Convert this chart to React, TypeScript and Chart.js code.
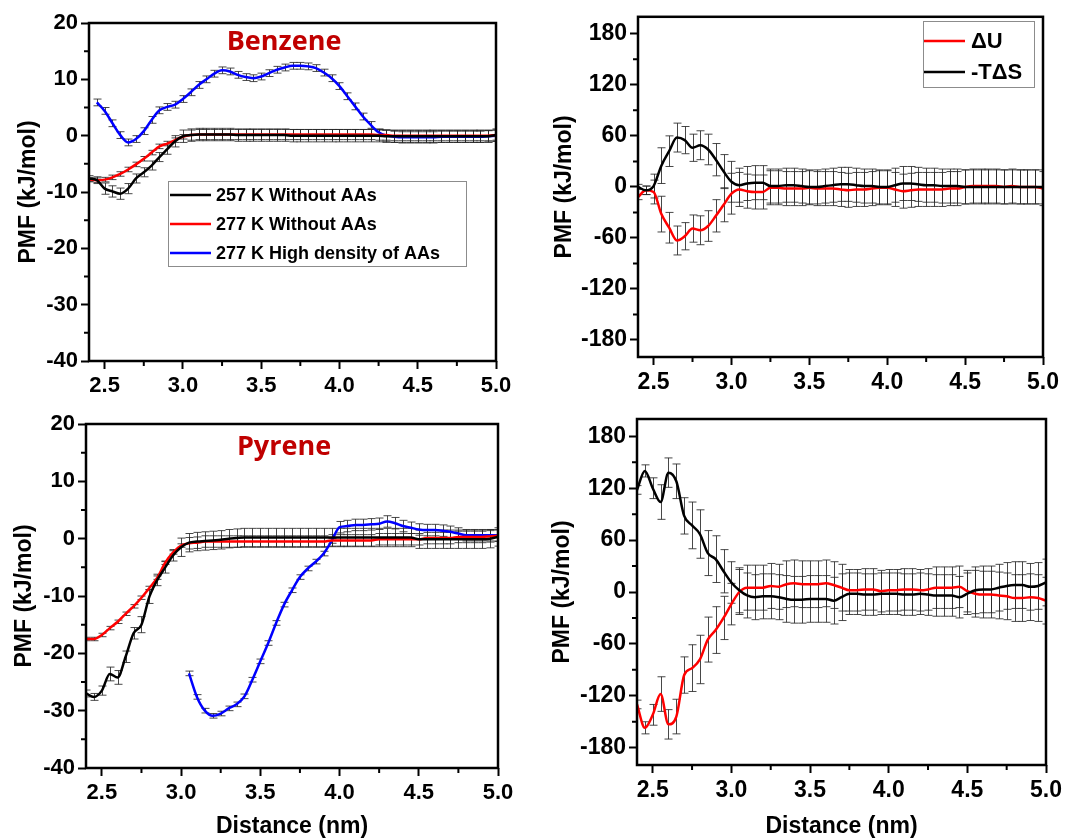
import React, { useEffect, useRef } from "react";
import { Chart, registerables } from "chart.js";

Chart.register(...registerables);
Chart.defaults.font.family = "'Liberation Sans', Arial, sans-serif";

const X = [
  2.40, 2.45, 2.50, 2.55, 2.60, 2.65, 2.70, 2.75, 2.80, 2.85,
  2.90, 2.95, 3.00, 3.05, 3.10, 3.15, 3.20, 3.25, 3.30, 3.35,
  3.40, 3.45, 3.50, 3.55, 3.60, 3.65, 3.70, 3.75, 3.80, 3.85,
  3.90, 3.95, 4.00, 4.05, 4.10, 4.15, 4.20, 4.25, 4.30, 4.35,
  4.40, 4.45, 4.50, 4.55, 4.60, 4.65, 4.70, 4.75, 4.80, 4.85,
  4.90, 4.95, 5.00,
];

const X_MAJOR = [2.5, 3.0, 3.5, 4.0, 4.5, 5.0];
const X_MINOR = [2.75, 3.25, 3.75, 4.25, 4.75];
const Y_MAJOR_PMF = [-40, -30, -20, -10, 0, 10, 20];
const Y_MINOR_PMF = [-35, -25, -15, -5, 5, 15];
const Y_MAJOR_DEC = [-180, -120, -60, 0, 60, 120, 180];
const Y_MINOR_DEC = [-150, -90, -30, 30, 90, 150];

// ---------- Benzene PMF ----------
const BZ_257 = [
  -7.6, -7.9, -9.4, -9.9, -10.3, -9.4, -7.6, -6.5, -5.3, -3.8,
  -2.4, -1.0, -0.1, 0.1, 0.2, 0.2, 0.2, 0.2, 0.2, 0.1,
  0.1, 0.1, 0.1, 0.1, 0.1, 0.1, 0.0, 0.0, 0.0, 0.0,
  0.0, 0.0, 0.0, 0.0, 0.0, 0.0, 0.0, 0.0, -0.1, -0.1,
  -0.1, -0.1, -0.1, -0.1, -0.1, -0.1, -0.1, -0.1, -0.1, -0.1,
  -0.1, -0.1, 0.1,
];
const BZ_257_ERR = [
  0.5, 0.6, 1.0, 1.0, 1.0, 0.9, 0.8, 0.8, 0.8, 0.8,
  0.9, 1.0, 1.1, 1.1, 1.1, 1.1, 1.1, 1.1, 1.1, 1.1,
  1.1, 1.1, 1.1, 1.1, 1.1, 1.1, 1.1, 1.1, 1.1, 1.1,
  1.1, 1.1, 1.1, 1.1, 1.1, 1.1, 1.1, 1.1, 1.1, 1.1,
  1.1, 1.1, 1.1, 1.1, 1.1, 1.1, 1.1, 1.1, 1.1, 1.1,
  1.1, 1.1, 1.1,
];
const BZ_277 = [
  -7.8, -7.9, -7.8, -7.4, -6.8, -6.0, -5.1, -4.1, -3.0, -1.9,
  -1.4, -0.8, -0.2, 0.1, 0.2, 0.2, 0.2, 0.2, 0.2, 0.2,
  0.2, 0.2, 0.2, 0.2, 0.2, 0.2, 0.2, 0.2, 0.2, 0.2,
  0.2, 0.2, 0.2, 0.2, 0.2, 0.2, 0.2, 0.1, 0.1, 0.0,
  0.0, 0.0, 0.0, 0.0, 0.0, 0.0, 0.0, 0.0, 0.0, 0.0,
  0.0, 0.0, 0.1,
];
const BZ_277_ERR = [
  0.4, 0.4, 0.4, 0.4, 0.4, 0.4, 0.4, 0.4, 0.4, 0.4,
  0.4, 0.4, 0.4, 0.9, 0.9, 0.9, 0.9, 0.9, 0.9, 0.9,
  0.9, 0.9, 0.9, 0.9, 0.9, 0.9, 0.9, 0.9, 0.9, 0.9,
  0.9, 0.9, 0.9, 0.9, 0.9, 0.9, 0.9, 0.9, 0.9, 0.9,
  0.9, 0.9, 0.9, 0.9, 0.9, 0.9, 0.9, 0.9, 0.9, 0.9,
  0.9, 0.9, 0.9,
];
const BZ_AA = [
  null, 5.9, 4.4, 2.2, 0.1, -1.2, -0.6, 0.8, 2.8, 4.5,
  5.1, 5.5, 6.5, 7.7, 9.0, 10.0, 11.0, 11.6, 11.4, 10.8,
  10.4, 10.2, 10.5, 11.1, 11.7, 12.1, 12.4, 12.4, 12.3, 12.0,
  11.2, 10.2, 8.8, 7.0, 5.2, 3.4, 1.9, 0.6, 0.0, -0.2,
  -0.3, -0.3, -0.3, -0.3, -0.3, -0.2, -0.2, -0.2, -0.2, -0.2,
  -0.2, -0.1, 0.0,
];
const BZ_AA_ERR = [
  null, 0.6, 0.6, 0.6, 0.6, 0.6, 0.6, 0.6, 0.6, 0.6,
  0.6, 0.6, 0.6, 0.6, 0.6, 0.6, 0.6, 0.6, 0.6, 0.6,
  0.6, 0.6, 0.6, 0.6, 0.6, 0.6, 0.6, 0.6, 0.6, 0.6,
  0.6, 0.6, 0.6, 0.6, 0.6, 0.6, 0.6, 0.6, 1.0, 1.0,
  1.0, 1.0, 1.0, 1.0, 1.0, 1.0, 1.0, 1.0, 1.0, 1.0,
  1.0, 1.0, 1.0,
];

// ---------- Benzene decomposition ----------
const BZ_U = [
  -12, -4, -6, -32, -48, -63, -58, -49, -51, -46,
  -34, -21, -8, -3, -5, -6, -6, -1, -1, -2,
  -2, -2, -1, -2, -2, -2, -3, -4, -3, -3,
  -2, -1, -1, -3, -5, -4, -3, -3, -3, -3,
  -2, -2, 0, 1, 1, 1, 1, 0, 1, 0,
  0, 0, -2,
];
const BZ_TS = [
  0, -4, 1, 25, 42, 58, 55, 46, 49, 44,
  32, 18, 6, 2, 4, 5, 5, 1, 1, 2,
  2, 1, 0, 0, 1, 2, 3, 3, 2, 1,
  1, 0, 0, 2, 4, 4, 3, 2, 2, 1,
  1, 1, 0, 0, 0, 0, 0, 0, 0, 0,
  0, 0, 0,
];
const BZ_DEC_ERR = [
  3, 5, 14, 21, 18, 17, 16, 16, 17, 18,
  19, 20, 24, 20, 20, 20, 20, 20, 20, 20,
  20, 20, 20, 20, 20, 20, 20, 20, 20, 20,
  20, 20, 20, 20, 20, 20, 20, 20, 20, 20,
  20, 20, 20, 20, 20, 20, 20, 20, 20, 20,
  20, 20, 20,
];

// ---------- Pyrene PMF ----------
const PY_257 = [
  -27.0, -27.6, -26.5, -23.6, -24.2, -20.6, -16.5, -15.0, -10.1, -7.2,
  -5.0, -2.9, -1.5, -0.7, -0.5, -0.4, -0.3, -0.2, 0.0, 0.1,
  0.2, 0.2, 0.2, 0.2, 0.2, 0.2, 0.2, 0.2, 0.2, 0.2,
  0.2, 0.2, 0.2, 0.2, 0.2, 0.2, 0.2, 0.2, 0.2, 0.2,
  0.2, 0.2, -0.1, -0.1, -0.1, -0.1, -0.1, -0.1, -0.1, -0.1,
  -0.1, 0.0, 0.3,
];
const PY_257_ERR = [
  0.6, 0.6, 0.8, 1.2, 1.2, 1.0, 1.0, 1.4, 1.2, 1.0,
  1.0, 1.0, 1.6, 1.6, 1.6, 1.6, 1.6, 1.6, 1.6, 1.6,
  1.6, 1.6, 1.6, 1.6, 1.6, 1.6, 1.6, 1.6, 1.6, 1.6,
  1.6, 1.6, 1.6, 1.6, 1.6, 1.6, 1.6, 1.6, 1.6, 1.6,
  1.6, 1.6, 1.6, 1.6, 1.6, 1.6, 1.6, 1.6, 1.6, 1.6,
  1.6, 1.6, 1.6,
];
const PY_277 = [
  -17.5, -17.5, -16.8, -15.6, -14.5, -13.1, -11.8, -10.3, -8.6, -6.8,
  -4.2, -2.4, -1.2, -0.8, -0.7, -0.5, -0.5, -0.5, -0.5, -0.5,
  -0.5, -0.5, -0.5, -0.5, -0.5, -0.5, -0.5, -0.5, -0.5, -0.5,
  -0.5, -0.3, -0.3, -0.3, -0.3, -0.3, -0.3, -0.1, -0.1, -0.1,
  -0.1, -0.1, -0.1, 0.1, 0.1, 0.1, 0.1, 0.3, 0.3, 0.3,
  0.3, 0.4, 0.5,
];
const PY_277_ERR = [
  0.3, 0.3, 0.3, 0.3, 0.3, 0.3, 0.3, 0.3, 0.3, 0.3,
  0.3, 0.3, 0.3, 1.0, 1.0, 1.0, 1.0, 1.0, 1.0, 1.0,
  1.0, 1.0, 1.0, 1.0, 1.0, 1.0, 1.0, 1.0, 1.0, 1.0,
  1.0, 1.0, 1.0, 1.0, 1.0, 1.0, 1.0, 1.0, 1.0, 1.0,
  1.0, 1.0, 1.0, 1.0, 1.0, 1.0, 1.0, 1.0, 1.0, 1.0,
  1.0, 1.0, 1.0,
];
const PY_AA = [
  null, null, null, null, null, null, null, null, null, null,
  null, null, null, -23.5, -27.6, -30.0, -30.9, -30.5, -29.6, -28.9,
  -27.5, -24.6, -21.4, -18.2, -14.7, -11.5, -9.0, -6.7, -5.2, -4.0,
  -2.6, -0.4, 2.0, 2.2, 2.4, 2.4, 2.5, 2.6, 3.0, 2.7,
  2.2, 1.9, 1.6, 1.5, 1.5, 1.4, 1.2, 0.9, 0.6, 0.6,
  0.6, 0.6, 0.6,
];
const PY_AA_ERR = [
  null, null, null, null, null, null, null, null, null, null,
  null, null, null, 0.4, 0.4, 0.4, 0.4, 0.4, 0.4, 0.4,
  0.4, 0.4, 0.4, 0.4, 0.4, 0.4, 0.4, 0.4, 0.4, 0.4,
  0.4, 0.4, 1.0, 1.0, 1.0, 1.0, 1.0, 1.0, 1.0, 1.0,
  1.0, 1.0, 1.0, 1.0, 1.0, 1.0, 1.0, 1.0, 1.0, 1.0,
  1.0, 1.0, 1.0,
];

// ---------- Pyrene decomposition ----------
const PY_TS = [
  118, 140, 120, 104, 138, 128, 88, 77, 67, 45,
  38, 24, 11, 2, -4, -6, -5, -5, -6, -8,
  -9, -9, -8, -8, -8, -10, -6, -2, -2, -3,
  -3, -2, -2, -2, -3, -3, -2, -3, -4, -4,
  -4, -6, -2, 2, 3, 3, 5, 7, 8, 8,
  6, 7, 11,
];
const PY_U = [
  -130, -157, -142, -118, -153, -144, -96, -88, -78, -55,
  -44, -30, -14, 0, 5, 5, 5, 7, 6, 9,
  10, 9, 9, 9, 10, 8, 5, 2, 2, 3,
  3, 1, 2, 2, 3, 3, 2, 3, 5, 5,
  5, 6, 1, -2, -3, -3, -4, -5, -7, -7,
  -6, -7, -10,
];
const PY_DEC_ERR = [
  5, 7, 12, 20, 17, 20, 21, 27, 28, 26,
  27, 25, 24, 26, 26, 26, 26, 26, 26, 27,
  27, 27, 27, 27, 27, 27, 27, 24, 24, 24,
  24, 24, 24, 24, 24, 24, 24, 24, 24, 24,
  24, 24, 24, 27, 27, 27, 27, 27, 27, 27,
  27, 27, 27,
];

const LEG_PMF = ["257 K Without AAs", "277 K Without AAs", "277 K High density of AAs"];
const LEG_DEC = ["\u0394U", "-T\u0394S"];

type Series = { label: string; values: (number | null)[]; errors: (number | null)[]; color: string };
type PanelCfg = {
  id: string;
  left: number; top: number; width: number; height: number;
  padding: { left: number; top: number; right: number; bottom: number };
  yWidth: number; xHeight: number;
  yMin: number; yMax: number; yMajor: number[]; yMinor: number[];
  tickSize: number;
  xTitle: boolean;
  series: Series[];
  title?: { text: string; x: number; y: number };
  legend?: {
    box: [number, number, number, number];
    x0: number; x1: number; tx: number; rows: number[]; size: number;
    items: { label: string; color: string }[];
  };
};

const BLACK = "#000000";
const RED = "#ff0000";
const BLUE = "#0000ff";

const PANELS: PanelCfg[] = [
  {
    id: "bz", left: 0, top: 0, width: 530, height: 400,
    padding: { left: 11, top: 23, right: 34, bottom: 0 },
    yWidth: 78, xHeight: 39,
    yMin: -40, yMax: 20, yMajor: Y_MAJOR_PMF, yMinor: Y_MINOR_PMF,
    tickSize: 22, xTitle: false,
    series: [
      { label: LEG_PMF[0], values: BZ_257, errors: BZ_257_ERR, color: BLACK },
      { label: LEG_PMF[1], values: BZ_277, errors: BZ_277_ERR, color: RED },
      { label: LEG_PMF[2], values: BZ_AA, errors: BZ_AA_ERR, color: BLUE },
    ],
    title: { text: "Benzene", x: 284, y: 50 },
    legend: {
      box: [168, 181, 298, 85], x0: 170, x1: 211, tx: 216, rows: [195, 224, 253], size: 18,
      items: [
        { label: LEG_PMF[0], color: BLACK },
        { label: LEG_PMF[1], color: RED },
        { label: LEG_PMF[2], color: BLUE },
      ],
    },
  },
  {
    id: "bzd", left: 540, top: 0, width: 529, height: 400,
    padding: { left: 7, top: 15, right: 26, bottom: 0 },
    yWidth: 91, xHeight: 43,
    yMin: -200, yMax: 200, yMajor: Y_MAJOR_DEC, yMinor: Y_MINOR_DEC,
    tickSize: 23, xTitle: false,
    series: [
      { label: LEG_DEC[1], values: BZ_TS, errors: BZ_DEC_ERR, color: BLACK },
      { label: LEG_DEC[0], values: BZ_U, errors: BZ_DEC_ERR, color: RED },
    ],
    legend: {
      box: [383, 21, 111, 66], x0: 384, x1: 425, tx: 431, rows: [41, 72], size: 22,
      items: [
        { label: LEG_DEC[0], color: RED },
        { label: LEG_DEC[1], color: BLACK },
      ],
    },
  },
  {
    id: "py", left: 0, top: 400, width: 530, height: 440,
    padding: { left: 7, top: 24, right: 32, bottom: 0 },
    yWidth: 79, xHeight: 72,
    yMin: -40, yMax: 20, yMajor: Y_MAJOR_PMF, yMinor: Y_MINOR_PMF,
    tickSize: 22, xTitle: true,
    series: [
      { label: LEG_PMF[0], values: PY_257, errors: PY_257_ERR, color: BLACK },
      { label: LEG_PMF[1], values: PY_277, errors: PY_277_ERR, color: RED },
      { label: LEG_PMF[2], values: PY_AA, errors: PY_AA_ERR, color: BLUE },
    ],
    title: { text: "Pyrene", x: 284, y: 55 },
  },
  {
    id: "pyd", left: 540, top: 400, width: 529, height: 440,
    padding: { left: 5, top: 19, right: 23, bottom: 0 },
    yWidth: 92, xHeight: 75,
    yMin: -200, yMax: 200, yMajor: Y_MAJOR_DEC, yMinor: Y_MINOR_DEC,
    tickSize: 23, xTitle: true,
    series: [
      { label: LEG_DEC[1], values: PY_TS, errors: PY_DEC_ERR, color: BLACK },
      { label: LEG_DEC[0], values: PY_U, errors: PY_DEC_ERR, color: RED },
    ],
  },
];

const FONT_FAMILY = "'Liberation Sans', Arial, sans-serif";

function Panel({ cfg }: { cfg: PanelCfg }) {
  const ref = useRef<HTMLCanvasElement>(null);

  useEffect(() => {
    const canvas = ref.current;
    if (!canvas) return;

    const overlay = {
      id: "overlay_" + cfg.id,
      beforeDatasetsDraw(chart: any) {
        const { ctx, chartArea } = chart;
        const xs = chart.scales.x;
        const ys = chart.scales.y;
        ctx.save();
        ctx.beginPath();
        ctx.rect(chartArea.left, chartArea.top, chartArea.right - chartArea.left, chartArea.bottom - chartArea.top);
        ctx.clip();
        ctx.strokeStyle = "rgba(40,40,40,0.85)";
        ctx.lineWidth = 1;
        chart.data.datasets.forEach((ds: any) => {
          ds.data.forEach((p: any) => {
            if (p.e == null || p.e <= 0) return;
            const px = Math.round(xs.getPixelForValue(p.x)) + 0.5;
            const y1 = ys.getPixelForValue(p.y + p.e);
            const y2 = ys.getPixelForValue(p.y - p.e);
            ctx.beginPath();
            ctx.moveTo(px, y1);
            ctx.lineTo(px, y2);
            ctx.moveTo(px - 4, y1);
            ctx.lineTo(px + 4, y1);
            ctx.moveTo(px - 4, y2);
            ctx.lineTo(px + 4, y2);
            ctx.stroke();
          });
        });
        ctx.restore();
      },
      afterDraw(chart: any) {
        const { ctx, chartArea } = chart;
        const xs = chart.scales.x;
        const ys = chart.scales.y;
        ctx.save();
        // frame
        ctx.strokeStyle = "#000";
        ctx.lineWidth = 2.5;
        ctx.strokeRect(chartArea.left, chartArea.top, chartArea.right - chartArea.left, chartArea.bottom - chartArea.top);
        // minor ticks
        ctx.lineWidth = 2;
        ctx.beginPath();
        X_MINOR.forEach((v) => {
          const px = xs.getPixelForValue(v);
          ctx.moveTo(px, chartArea.bottom);
          ctx.lineTo(px, chartArea.bottom + 5);
        });
        cfg.yMinor.forEach((v) => {
          const py = ys.getPixelForValue(v);
          ctx.moveTo(chartArea.left - 5, py);
          ctx.lineTo(chartArea.left, py);
        });
        ctx.stroke();
        // panel title
        if (cfg.title) {
          ctx.fillStyle = "#c00000";
          ctx.font = "bold 27px 'Open Sans', 'Liberation Sans', sans-serif";
          ctx.textAlign = "center";
          ctx.textBaseline = "alphabetic";
          ctx.fillText(cfg.title.text, cfg.title.x, cfg.title.y);
        }
        // legend
        if (cfg.legend) {
          const L = cfg.legend;
          ctx.strokeStyle = "#8c8c8c";
          ctx.lineWidth = 1;
          ctx.strokeRect(L.box[0] + 0.5, L.box[1] + 0.5, L.box[2], L.box[3]);
          ctx.font = `bold ${L.size}px ${FONT_FAMILY}`;
          ctx.textAlign = "left";
          ctx.textBaseline = "middle";
          L.items.forEach((it, k) => {
            const y = L.rows[k];
            ctx.strokeStyle = it.color;
            ctx.lineWidth = 2.5;
            ctx.beginPath();
            ctx.moveTo(L.x0, y);
            ctx.lineTo(L.x1, y);
            ctx.stroke();
            ctx.fillStyle = "#000";
            ctx.fillText(it.label, L.tx, y + 1);
          });
        }
        ctx.restore();
      },
    };

    const tickFont = { size: cfg.tickSize, weight: "bold" as const, family: FONT_FAMILY };
    const titleFont = { size: 23, weight: "bold" as const, family: FONT_FAMILY };

    const chart = new Chart(canvas, {
      type: "line",
      data: {
        datasets: cfg.series.map((s) => ({
          label: s.label,
          data: X.map((x, i) => ({ x, y: s.values[i], e: s.errors[i] })).filter((p) => p.y !== null) as any,
          borderColor: s.color,
          backgroundColor: s.color,
          borderWidth: 2.5,
          pointRadius: 0,
          pointHoverRadius: 0,
          cubicInterpolationMode: "monotone" as const,
          fill: false,
        })),
      },
      options: {
        responsive: false,
        animation: false,
        events: [],
        layout: { padding: cfg.padding },
        plugins: { legend: { display: false }, tooltip: { enabled: false }, title: { display: false } },
        scales: {
          x: {
            type: "linear",
            min: 2.4,
            max: 5.0,
            afterBuildTicks: (s: any) => {
              s.ticks = X_MAJOR.map((v) => ({ value: v }));
            },
            afterFit: (s: any) => {
              s.height = cfg.xHeight;
            },
            ticks: {
              callback: (v: any) => Number(v).toFixed(1),
              font: tickFont,
              color: "#000",
              padding: 4,
              maxRotation: 0,
              autoSkip: false,
            },
            grid: { display: true, drawOnChartArea: false, drawTicks: true, tickLength: 8, tickWidth: 2, tickColor: "#000" },
            border: { display: false },
            title: cfg.xTitle
              ? { display: true, text: "Distance (nm)", font: titleFont, color: "#000", padding: { top: 0, bottom: 0 } }
              : { display: false },
          },
          y: {
            type: "linear",
            min: cfg.yMin,
            max: cfg.yMax,
            afterBuildTicks: (s: any) => {
              s.ticks = cfg.yMajor.map((v) => ({ value: v }));
            },
            afterFit: (s: any) => {
              s.width = cfg.yWidth;
            },
            ticks: {
              callback: (v: any) => String(v),
              font: tickFont,
              color: "#000",
              padding: 3,
              autoSkip: false,
            },
            grid: { display: true, drawOnChartArea: false, drawTicks: true, tickLength: 8, tickWidth: 2, tickColor: "#000" },
            border: { display: false },
            title: { display: true, text: "PMF (kJ/mol)", font: titleFont, color: "#000", padding: { top: 4, bottom: 0 } },
          },
        },
      } as any,
      plugins: [overlay],
    });

    return () => chart.destroy();
  }, [cfg]);

  return (
    <canvas
      ref={ref}
      width={cfg.width}
      height={cfg.height}
      style={{ position: "absolute", left: cfg.left, top: cfg.top, display: "block" }}
    />
  );
}

export default function App() {
  return (
    <div>
      {PANELS.map((p) => (
        <Panel key={p.id} cfg={p} />
      ))}
    </div>
  );
}
